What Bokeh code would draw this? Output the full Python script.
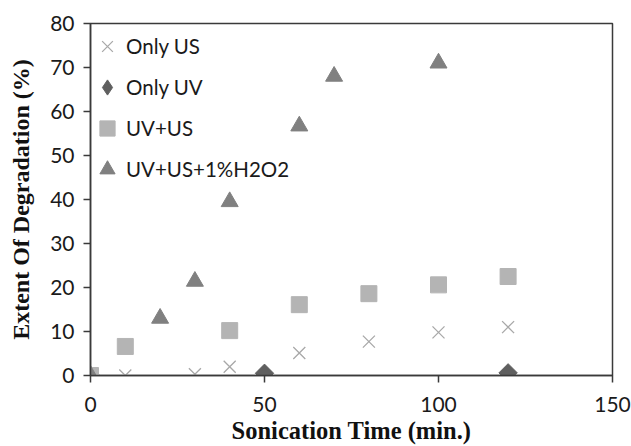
import math
from bokeh.plotting import figure
from bokeh.models import Legend, LegendItem, Range1d, FixedTicker
from bokeh.embed import file_html
from bokeh.resources import INLINE

# Data
only_us_x = [0, 10, 30, 40, 60, 80, 100, 120]
only_us_y = [0, 0, 0.3, 2.0, 5.1, 7.7, 9.8, 11.0]

only_uv_x = [0, 50, 120]
only_uv_y = [0, 0.5, 0.6]

uv_us_x = [0, 10, 40, 60, 80, 100, 120]
uv_us_y = [0, 6.6, 10.2, 16.1, 18.6, 20.6, 22.5]

uv_us_h2o2_x = [0, 20, 30, 40, 60, 70, 100]
uv_us_h2o2_y = [0, 13.0, 21.4, 39.5, 56.7, 68.0, 71.0]

series_labels = ["Only US", "Only UV", "UV+US", "UV+US+1%H2O2"]
x_ticks = [0, 50, 100, 150]
y_ticks = [0, 10, 20, 30, 40, 50, 60, 70, 80]

TICK_FONT = "Lato"
LABEL_FONT = "Liberation Serif"
C_US = "#a8a8a8"
C_UV = "#5f5f5f"
C_UVUS = "#b4b4b4"
C_H2O2 = "#808080"

p = figure(width=631, height=446, output_backend="svg", toolbar_location=None,
           x_range=Range1d(0, 150), y_range=Range1d(0, 80),
           min_border_left=90, min_border_right=19, min_border_top=23, min_border_bottom=70)
p.grid.visible = False
p.background_fill_color = "white"
p.border_fill_color = "white"
p.outline_line_color = "#3a3a3a"
p.outline_line_width = 1.5

r_us = p.scatter(only_us_x, only_us_y, marker="x", size=17, line_color=C_US, line_width=1.3)
r_uv = p.scatter(only_uv_x, only_uv_y, marker="square", size=13, angle=math.pi / 4,
                 fill_color=C_UV, line_color=C_UV)
r_uvus = p.scatter(uv_us_x, uv_us_y, marker="square", size=16, fill_color=C_UVUS, line_color=C_UVUS)
r_h2o2 = p.scatter(uv_us_h2o2_x, uv_us_h2o2_y, marker="triangle", size=17, fill_color=C_H2O2, line_color=C_H2O2)
# legend-only proxy glyph (draws nothing in the plot) for the diamond series
r_uv_leg = p.scatter(x=[float("nan")], y=[float("nan")], marker="diamond", size=17,
                     fill_color=C_UV, line_color=C_UV)

for ax in (p.xaxis[0], p.yaxis[0]):
    ax.axis_line_color = "#3a3a3a"
    ax.axis_line_width = 1.5
    ax.major_tick_line_color = "#3a3a3a"
    ax.major_tick_line_width = 1.5
    ax.major_tick_out = 7
    ax.major_tick_in = 0
    ax.minor_tick_line_color = None
    ax.major_label_text_font = TICK_FONT
    ax.major_label_text_font_size = "21px"
    ax.major_label_text_color = "#1a1a1a"
    ax.major_label_text_line_height = 1.0
    ax.axis_label_text_font = LABEL_FONT
    ax.axis_label_text_font_style = "bold"
    ax.axis_label_text_color = "#111111"
    ax.axis_label_text_line_height = 1.0

p.xaxis.ticker = FixedTicker(ticks=x_ticks)
p.yaxis.ticker = FixedTicker(ticks=y_ticks)
p.xaxis.axis_label = "Sonication Time (min.)"
p.yaxis.axis_label = "Extent Of Degradation (%)"
p.xaxis.axis_label_text_font_size = "24.5px"
p.yaxis.axis_label_text_font_size = "24px"
p.xaxis.major_label_standoff = 14
p.yaxis.major_label_standoff = 9
p.xaxis.axis_label_standoff = 2
p.yaxis.axis_label_standoff = 13

renderers = [r_us, r_uv_leg, r_uvus, r_h2o2]
legend = Legend(items=[LegendItem(label=l, renderers=[r]) for l, r in zip(series_labels, renderers)],
                location=(-2, 187), padding=0, margin=0, spacing=3,
                glyph_width=38, glyph_height=38, label_standoff=0,
                label_text_font=TICK_FONT, label_text_font_size="20.5px",
                label_text_color="#1a1a1a",
                border_line_color=None, background_fill_alpha=0)
p.add_layout(legend, "center")

open("out.html", "w").write(file_html(p, INLINE))
